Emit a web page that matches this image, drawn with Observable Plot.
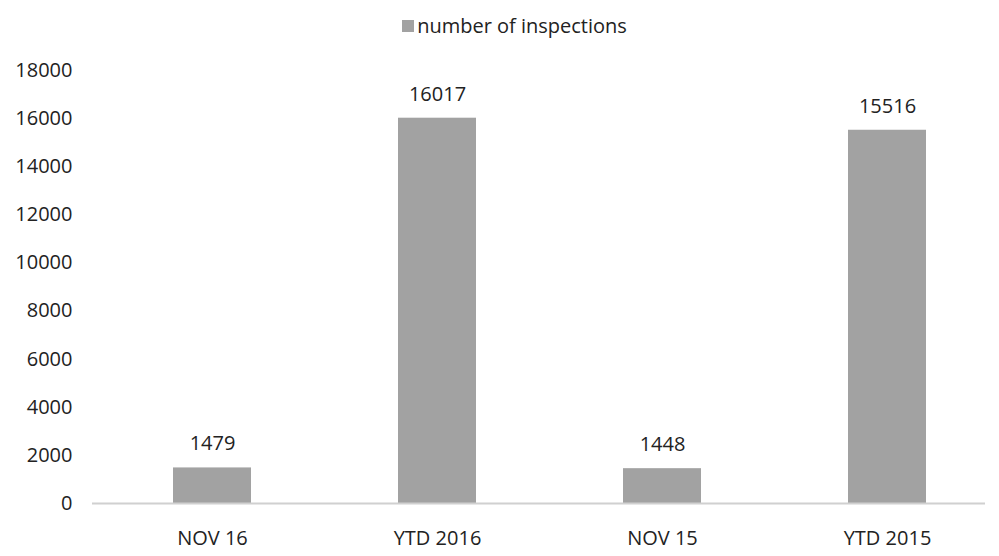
<!DOCTYPE html>
<html>
<head>
<meta charset="utf-8">
<script src="https://cdn.jsdelivr.net/npm/d3@7"></script>
<script src="https://cdn.jsdelivr.net/npm/@observablehq/plot@0.6"></script>
<style>
  html, body { margin: 0; padding: 0; background: #fff; }
  body { width: 999px; height: 556px; overflow: hidden; font-family: "Open Sans", "Liberation Sans", sans-serif; }
  #legend { height: 45px; display: flex; justify-content: center; align-items: center; font-size: 20px; color: #222; padding-left: 30px; padding-top: 6px; box-sizing: border-box; }
  #legend .sw { width: 12px; height: 12px; background: #a2a2a2; margin-right: 3px; display: inline-block; }
</style>
</head>
<body>
<div id="legend"><span class="sw"></span><span>number of inspections</span></div>
<div id="chart"></div>
<script>
const categories = ["NOV 16", "YTD 2016", "NOV 15", "YTD 2015"];
const values = [1479, 16017, 1448, 15516];
const yTicks = [0, 2000, 4000, 6000, 8000, 10000, 12000, 14000, 16000, 18000];

const data = categories.map((c, i) => ({category: c, value: values[i]}));

const chart = Plot.plot({
  width: 999,
  height: 511,
  marginTop: 25,
  marginBottom: 53,
  marginLeft: 92,
  marginRight: 14,
  style: {fontFamily: "'Open Sans', 'Liberation Sans', sans-serif", fontSize: "20px", color: "#222", background: "#fff"},
  x: {domain: categories, range: [95, 1004], paddingInner: 0.655, paddingOuter: 0.3475, label: null, tickSize: 0, tickPadding: 27},
  y: {domain: [0, 18000], ticks: yTicks, tickFormat: d3.format("d"), label: null, tickSize: 0, tickPadding: 20},
  marks: [
    Plot.barY(data, {x: "category", y: "value", fill: "#a2a2a2"}),
    Plot.ruleY([0], {stroke: "#d0d0d0", strokeWidth: 2}),
    Plot.text(data, {x: "category", y: "value", text: d => String(d.value), dy: -24, fontSize: 20, fill: "#222"})
  ]
});
document.getElementById("chart").appendChild(chart);
</script>
</body>
</html>
